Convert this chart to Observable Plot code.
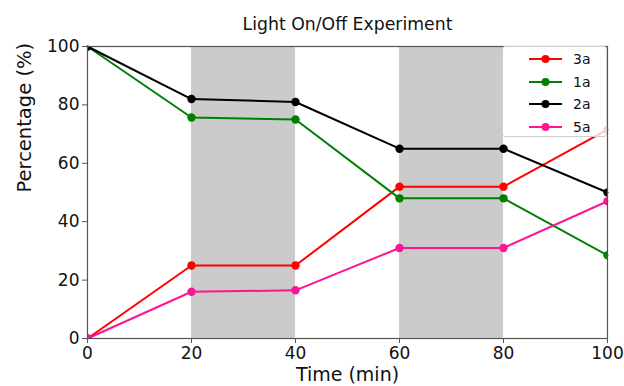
<!DOCTYPE html>
<html>
<head>
<meta charset="utf-8">
<script src="https://cdn.jsdelivr.net/npm/d3@7"></script>
<script src="https://cdn.jsdelivr.net/npm/@observablehq/plot@0.6"></script>
<style>
  html, body { margin: 0; padding: 0; background: #fff; }
  #wrap { position: relative; width: 624px; height: 386px; font-family: "DejaVu Sans", sans-serif; }
  #legend { position: absolute; left: 502px; top: 46px; width: 103px; height: 88px; padding-top: 1px;
            background: rgba(255,255,255,0.8); border: 1px solid #cfcfcf; border-radius: 3px; }
  .item { display: flex; align-items: center; height: 22.5px; font-size: 14px; color: #111; }
  .item svg { margin-left: 26px; margin-right: 11px; }
</style>
</head>
<body>
<div id="wrap"></div>
<script>
// ---- data ----
const times = [0, 20, 40, 60, 80, 100];
const series3a = [0, 25, 25, 52, 52, 71.5];
const series1a = [100, 75.7, 75, 48, 48, 28.5];
const series2a = [100, 82, 81, 65, 65, 50];
const series5a = [0, 16, 16.5, 31, 31, 47];
const seriesNames = ["3a", "1a", "2a", "5a"];
const seriesColors = ["#ff0000", "#008000", "#000000", "#ff1493"];
const bandStart = [20, 60];
const bandEnd = [40, 80];
const xTicks = [0, 20, 40, 60, 80, 100];
const yTicks = [0, 20, 40, 60, 80, 100];
const title = "Light On/Off Experiment";
const xLabel = "Time (min)";
const yLabel = "Percentage (%)";

const seriesValues = [series3a, series1a, series2a, series5a];
const rows = [];
seriesNames.forEach((name, i) => {
  times.forEach((t, j) => rows.push({ series: name, time: t, value: seriesValues[i][j] }));
});
const bands = bandStart.map((s, i) => ({ x1: s, x2: bandEnd[i] }));

const chart = Plot.plot({
  width: 624,
  height: 386,
  marginLeft: 87,
  marginRight: 17,
  marginTop: 46,
  marginBottom: 48,
  style: { fontFamily: "DejaVu Sans, sans-serif", background: "#fff", color: "#111" },
  x: { domain: [0, 100] },
  y: { domain: [0, 100] },
  color: { domain: seriesNames, range: seriesColors },
  marks: [
    Plot.rectY(bands, { x1: "x1", x2: "x2", y1: 0, y2: 100, fill: "#cbcbcb" }),
    Plot.line(rows, { x: "time", y: "value", z: "series", stroke: "series", strokeWidth: 2 }),
    Plot.dot(rows, { x: "time", y: "value", fill: "series", r: 4.2, clip: true }),
    Plot.frame({ stroke: "#555", strokeWidth: 1.2 }),
    Plot.axisX({ ticks: xTicks, tickSize: 5, tickPadding: 3, fontSize: 17, label: null, stroke: "#555" }),
    Plot.axisY({ ticks: yTicks, tickSize: 5, tickPadding: 3, fontSize: 17, label: null, stroke: "#555" }),
    Plot.text([xLabel], { frameAnchor: "bottom", dy: 36, fontSize: 19, lineAnchor: "middle", fill: "#111" }),
    Plot.text([yLabel], { frameAnchor: "left", dx: -63, rotate: -90, fontSize: 19.5, lineAnchor: "middle", fill: "#111" }),
    Plot.text([title], { frameAnchor: "top", dy: -22, fontSize: 17.3, lineAnchor: "middle", fill: "#111" })
  ]
});

const wrap = document.getElementById("wrap");
wrap.appendChild(chart);

// legend built from the series arrays
const legend = document.createElement("div");
legend.id = "legend";
seriesNames.forEach((name, i) => {
  const item = document.createElement("div");
  item.className = "item";
  const c = seriesColors[i];
  item.innerHTML = `<svg width="33" height="10"><line x1="0" y1="5" x2="33" y2="5" stroke="${c}" stroke-width="2"/><circle cx="16.5" cy="5" r="4" fill="${c}"/></svg><span>${name}</span>`;
  legend.appendChild(item);
});
wrap.appendChild(legend);
</script>
</body>
</html>
